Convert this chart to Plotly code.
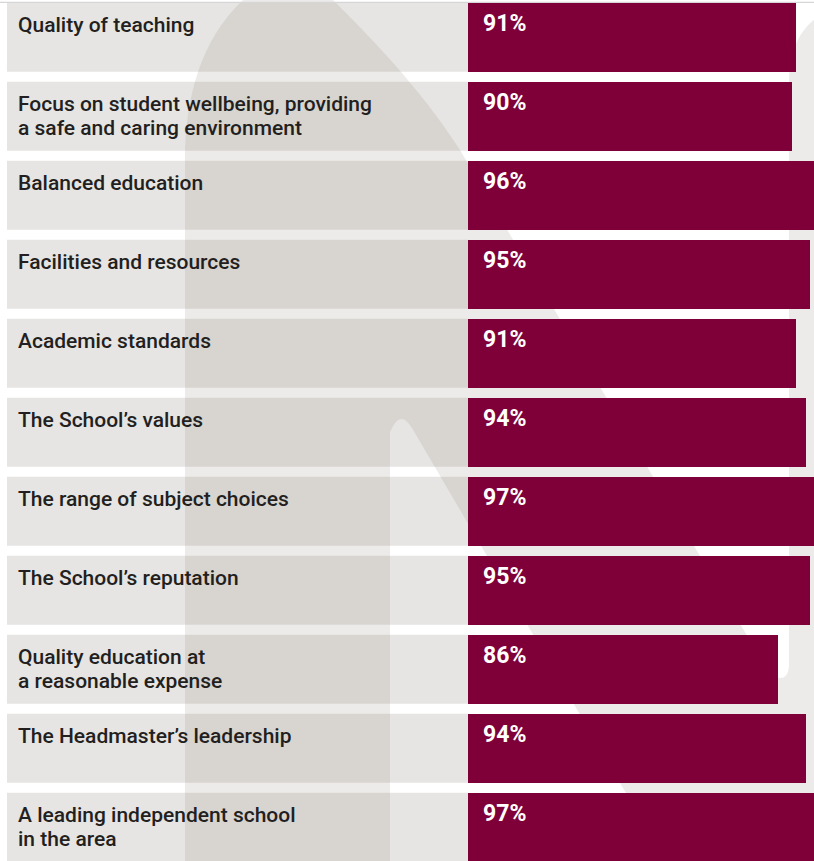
import plotly.graph_objects as go

# ---------------- data ----------------
categories = [
    "Quality of teaching",
    "Focus on student wellbeing, providing<br>a safe and caring environment",
    "Balanced education",
    "Facilities and resources",
    "Academic standards",
    "The School’s values",
    "The range of subject choices",
    "The School’s reputation",
    "Quality education at<br>a reasonable expense",
    "The Headmaster’s leadership",
    "A leading independent school<br>in the area",
]
values = [91, 90, 96, 95, 91, 94, 97, 95, 86, 94, 97]
value_labels = [f"{v}%" for v in values]

# ---------------- layout geometry ----------------
W, H = 814, 861
ZERO_PX = 468.0          # pixel position of 0 %
PX_PER_PCT = 3.6         # pixels per percentage point
ROW0_CENTER = 37.2       # pixel centre of first row
PITCH = 79.0             # pixels between rows
BAR_H = 69.0

x_range = [(0 - ZERO_PX) / PX_PER_PCT, (W - ZERO_PX) / PX_PER_PCT]
y_range = [(H - ROW0_CENTER) / PITCH, (0 - ROW0_CENTER) / PITCH]
bar_width = BAR_H / PITCH

BAR_COLOR = "#7f0038"
BOX_COLOR = "#e6e5e3"
TEXT_COLOR = "#231f20"


def dx(px):
    return (px - ZERO_PX) / PX_PER_PCT


def dy(py):
    return (py - ROW0_CENTER) / PITCH


def P(px, py):
    return f"{dx(px):.4f},{dy(py):.4f}"


fig = go.Figure()
fig.add_trace(go.Bar(
    x=values,
    y=list(range(len(categories))),
    orientation="h",
    width=bar_width,
    marker=dict(color=BAR_COLOR, line=dict(width=0)),
    hoverinfo="skip",
    showlegend=False,
))

shapes = []
# label background boxes
for i in range(len(categories)):
    shapes.append(dict(
        type="rect", xref="x", yref="y",
        x0=dx(7), x1=0, y0=i - bar_width / 2, y1=i + bar_width / 2,
        fillcolor=BOX_COLOR, line=dict(width=0), layer="below",
    ))

# large faint watermark letter
wm = (
    f"M {P(185, 875)} L {P(185, 160)} "
    f"C {P(185, 100)} {P(200, 40)} {P(243, 0)} "
    f"C {P(265, -28)} {P(310, -28)} {P(333, 0)} "
    f"C {P(368, 35)} {P(418, 85)} {P(460, 150)} "
    f"L {P(765, 666)} "
    f"Q {P(772, 678)} {P(780, 678)} "
    f"Q {P(789, 678)} {P(789, 664)} "
    f"L {P(789, 85)} "
    f"C {P(789, 42)} {P(806, 14)} {P(845, 6)} "
    f"L {P(845, 875)} L {P(674, 875)} "
    f"L {P(412, 428)} "
    f"Q {P(400, 408)} {P(390, 432)} "
    f"L {P(390, 875)} Z"
)
shapes.append(dict(
    type="path", xref="x", yref="y", path=wm,
    fillcolor="rgba(140,128,120,0.16)", line=dict(width=0), layer="below",
))
# thin top rule
shapes.append(dict(
    type="line", xref="x", yref="y",
    x0=dx(0), x1=dx(W), y0=dy(2.3), y1=dy(2.3),
    line=dict(color="#d6d6d6", width=1.2), layer="below",
))

annotations = []
LABEL_OFFSET = 22.5   # px from row top to first text line centre
LINE_GAP = 24.0
for i, cat in enumerate(categories):
    for j, line in enumerate(cat.split("<br>")):
        annotations.append(dict(
            xref="x", yref="y", x=dx(16), y=i,
            text=line, showarrow=False,
            xanchor="left", yanchor="middle",
            yshift=BAR_H / 2 - LABEL_OFFSET - LINE_GAP * j,
            font=dict(family="Roboto", size=21, color=TEXT_COLOR, weight=500),
        ))
for i, lab in enumerate(value_labels):
    annotations.append(dict(
        xref="x", yref="y", x=0, y=i,
        text=lab, showarrow=False,
        xanchor="left", yanchor="middle",
        xshift=13, yshift=BAR_H / 2 - 21,
        font=dict(family="Roboto", size=23, color="white", weight="bold"),
    ))

fig.update_layout(
    width=W, height=H,
    margin=dict(l=0, r=0, t=0, b=0, pad=0),
    paper_bgcolor="white", plot_bgcolor="rgba(0,0,0,0)",
    xaxis=dict(range=x_range, visible=False, fixedrange=True),
    yaxis=dict(range=y_range, visible=False, fixedrange=True),
    shapes=shapes, annotations=annotations,
    bargap=0, showlegend=False,
)

fig.write_html(
    "out.html",
    config={"displayModeBar": False},
    post_script="document.body.style.margin='0px';document.body.style.overflow='hidden';",
)
